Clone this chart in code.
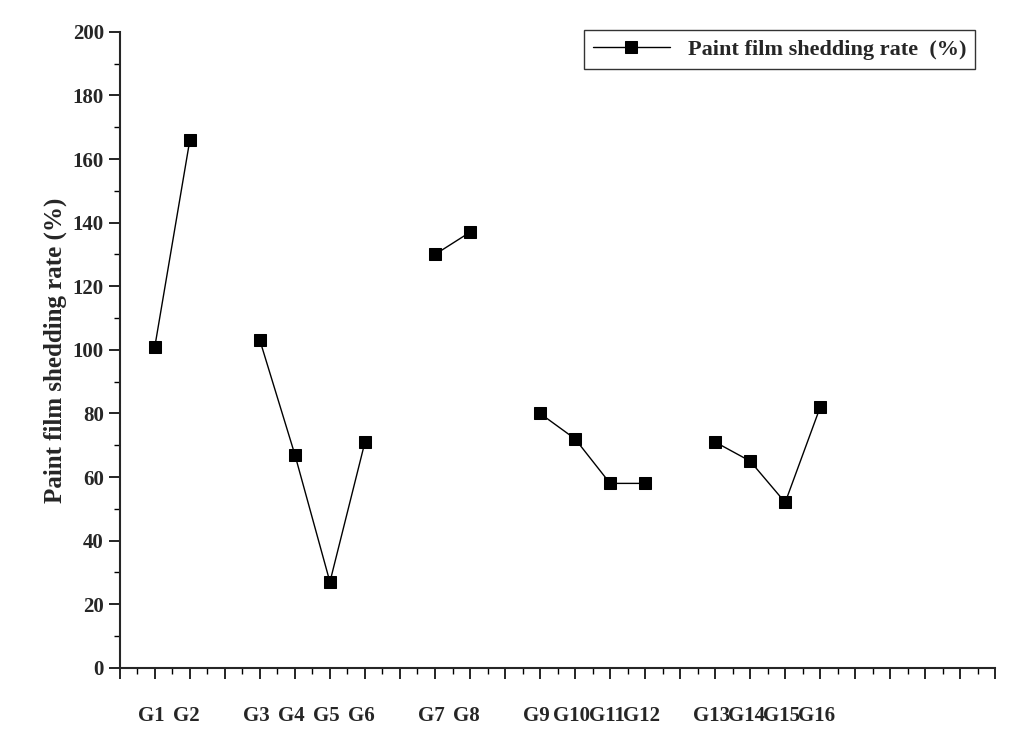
import numpy as np, pandas as pd, seaborn as sns, matplotlib
matplotlib.use("Agg")
import matplotlib.pyplot as plt
from matplotlib.ticker import MultipleLocator

labels = ["G1","G2","G3","G4","G5","G6","G7","G8","G9","G10","G11","G12","G13","G14","G15","G16"]
positions = [1,2,4,5,6,7,9,10,12,13,14,15,17,18,19,20]
values = [101,166,103,67,27,71,130,137,80,72,58,58,71,65,52,82]
groups = [1,1,2,2,2,2,3,3,4,4,4,4,5,5,5,5]

sns.set_style("ticks")
plt.rcParams['font.family'] = ['Liberation Serif', 'DejaVu Serif']
plt.rcParams['font.weight'] = 'bold'
df = pd.DataFrame({"x": positions, "y": values, "g": groups})
fig, ax = plt.subplots(figsize=(10.24, 7.42), dpi=100)
fig.subplots_adjust(left=0.117, right=0.972, top=0.957, bottom=0.1)
for i, (g, d) in enumerate(df.groupby("g")):
    sns.lineplot(data=d, x="x", y="y", ax=ax, color="black", lw=1, marker="s", markersize=9,
                 markeredgecolor="black", label="Paint film shedding rate  (%)" if i == 0 else None)
ax.set_xlim(0, 25)
ax.set_ylim(0, 200)
ax.set_xticks(range(0, 26))
ax.set_xticklabels([])
for p, l in zip(positions, labels):
    ax.text(p - 0.1, -12, l, ha="center", va="top", fontsize=15, fontweight="bold", transform=ax.transData)
ax.xaxis.set_minor_locator(MultipleLocator(0.5))
ax.yaxis.set_major_locator(MultipleLocator(20))
ax.yaxis.set_minor_locator(MultipleLocator(10))
ax.tick_params(axis="both", which="major", direction="out", length=8, width=1.2, labelsize=15, color="black")
ax.tick_params(axis="both", which="minor", direction="out", length=4, width=1, color="black")
ax.set_xlabel("")
ax.set_ylabel("Paint film shedding rate (%)", fontsize=18, fontweight="bold")
for s in ["top", "right"]:
    ax.spines[s].set_visible(False)
for s in ["left", "bottom"]:
    ax.spines[s].set_linewidth(1.5)
leg = ax.legend(loc="upper right", frameon=True, fancybox=False, edgecolor="black", handlelength=3.5,
                prop={"weight": "bold", "size": 16}, bbox_to_anchor=(0.99, 1.02))
fig.savefig("out.png", dpi=100)
